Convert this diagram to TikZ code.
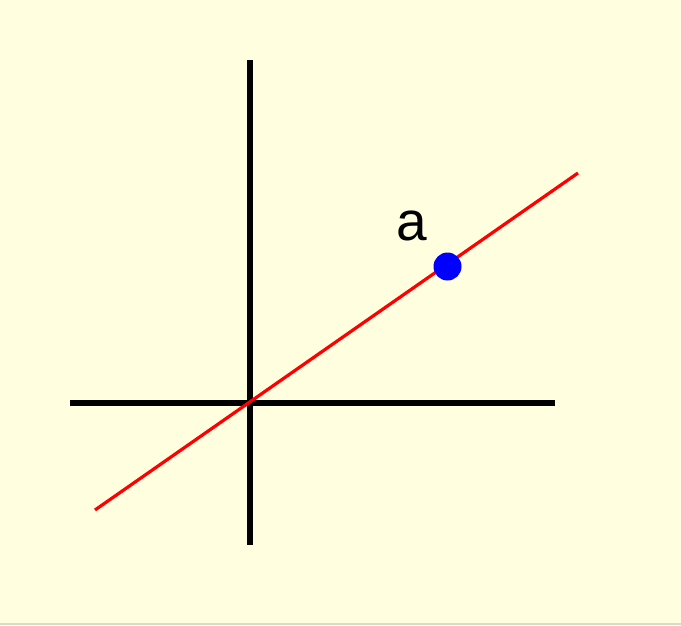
\documentclass[tikz,border=0pt]{standalone}
\usepackage{fontspec}
\setmainfont{Liberation Sans}
\definecolor{bg}{HTML}{FFFFE0}
\definecolor{edge}{HTML}{D8DCC4}
\begin{document}
\begin{tikzpicture}[x=1pt,y=-1pt,
  axis/.style={line width=6pt,black},
  redline/.style={line width=3.2pt,red},
  dot/.style={circle,fill=blue,inner sep=0pt,minimum size=28pt}]
\fill[bg] (0,0) rectangle (681,625);
\useasboundingbox (0,0) rectangle (681,625);
\draw[edge,line width=1.5pt] (0,624.2) -- (681,624.2);
\coordinate (vt) at (250,60);
\coordinate (vb) at (250,545);
\coordinate (hl) at (70,403);
\coordinate (hr) at (555,403);
\coordinate (r1) at (95,510);
\coordinate (r2) at (578,173);
\draw[axis] (vt) -- (vb);
\draw[axis] (hl) -- (hr);
\draw[redline] (r1) -- (r2);
\node[dot] (a) at (447.5,266.5) {};
\node[font=\fontsize{55}{60}\selectfont,inner sep=0pt] (lab) at (411.5,226) {a};
\end{tikzpicture}
\end{document}
